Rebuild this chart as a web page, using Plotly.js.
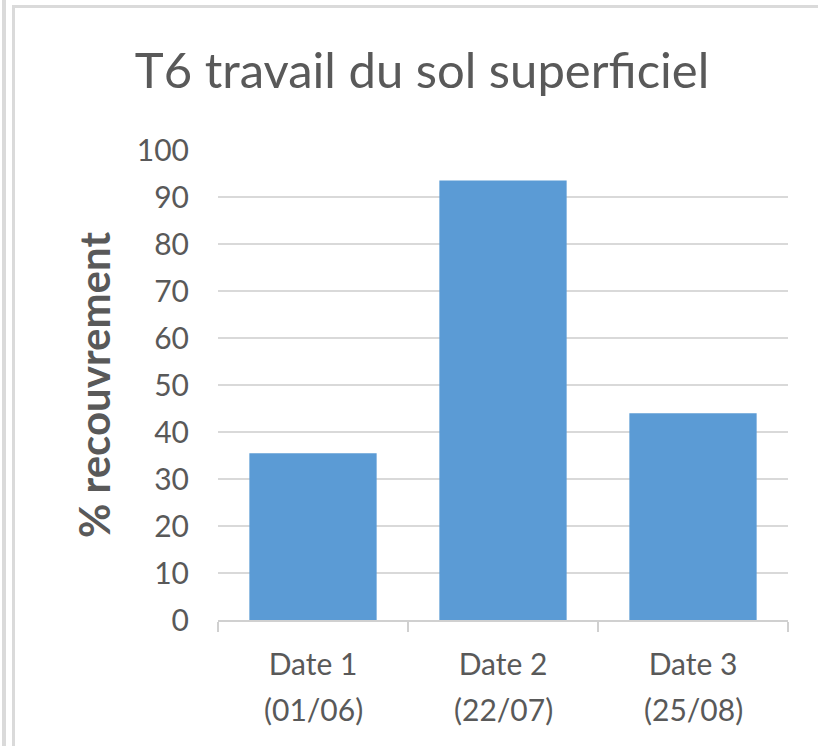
<!DOCTYPE html>
<html>
<head>
<meta charset="utf-8">
<script src="https://cdn.plot.ly/plotly-3.0.1.min.js"></script>
<style>
  html, body { margin: 0; padding: 0; background: #ffffff; }
  #wrap { position: relative; width: 818px; height: 746px; overflow: hidden; }
  #chart { position: absolute; left: 0; top: 0; width: 818px; height: 746px; }
  .frame { position: absolute; background: #dadada; pointer-events: none; }
</style>
</head>
<body>
<div id="wrap">
  <div id="chart"></div>
  <div class="frame" style="left:2px; top:0; width:4px; height:746px;"></div>
  <div class="frame" style="left:12px; top:5px; width:3px; height:741px;"></div>
  <div class="frame" style="left:12px; top:5px; width:806px; height:3px;"></div>
</div>
<script>
// Data
const categories = ["Date 1", "Date 2", "Date 3"];
const dateLabels = ["(01/06)", "(22/07)", "(25/08)"];
const recouvrement = [35.5, 93.5, 44];
const yTicks = [0, 10, 20, 30, 40, 50, 60, 70, 80, 90, 100];

const textColor = "#595959";
const fontFamily = "Lato, 'Open Sans', sans-serif";

const trace = {
  type: "bar",
  x: categories,
  y: recouvrement,
  marker: { color: "#5b9bd5" },
  hoverinfo: "x+y"
};

const annotations = categories.map((c, i) => ({
  x: c, xref: "x",
  y: 0, yref: "paper",
  yanchor: "middle", xanchor: "center",
  yshift: -89,
  text: dateLabels[i],
  showarrow: false,
  font: { family: fontFamily, size: 30, color: textColor }
}));

const layout = {
  width: 818,
  height: 746,
  margin: { l: 218, r: 30, t: 150, b: 126, pad: 0 },
  paper_bgcolor: "rgba(0,0,0,0)",
  plot_bgcolor: "rgba(0,0,0,0)",
  showlegend: false,
  bargap: 0.33,
  title: {
    text: "T6 travail du sol superficiel",
    font: { family: fontFamily, size: 49, color: textColor },
    x: 422 / 818, xanchor: "center", xref: "container",
    y: 1 - 71 / 746, yanchor: "middle", yref: "container"
  },
  xaxis: {
    type: "category",
    tickmode: "array",
    tickvals: categories,
    ticktext: categories,
    tickson: "boundaries",
    ticks: "outside",
    ticklen: 10,
    tickwidth: 2,
    tickcolor: "#d0d0d0",
    showline: true,
    linecolor: "#d0d0d0",
    linewidth: 2,
    showgrid: false,
    zeroline: false,
    tickfont: { family: fontFamily, size: 30, color: textColor },
    ticklabelstandoff: 17
  },
  yaxis: {
    range: [0, 100],
    tickmode: "array",
    tickvals: yTicks,
    ticktext: yTicks.map(String),
    showgrid: true,
    gridcolor: "#d9d9d9",
    gridwidth: 2,
    zeroline: false,
    showline: false,
    ticks: "",
    ticklabelstandoff: 28,
    tickfont: { family: fontFamily, size: 30, color: textColor },
    title: {
      text: "% recouvrement",
      font: { family: fontFamily, size: 42, color: textColor, weight: "bold" },
      standoff: 13
    }
  },
  annotations: annotations
};

Plotly.newPlot("chart", [trace], layout, { displayModeBar: false, staticPlot: true });
</script>
</body>
</html>
